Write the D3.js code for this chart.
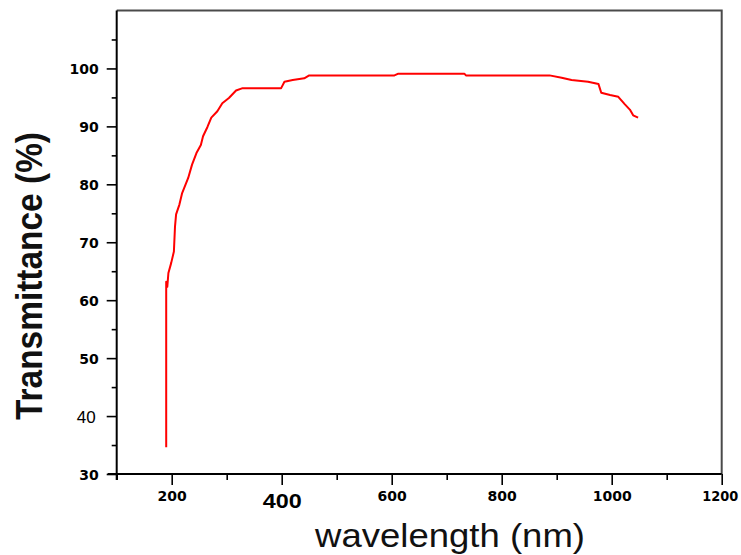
<!DOCTYPE html>
<html>
<head>
<meta charset="utf-8">
<script src="https://cdn.jsdelivr.net/npm/d3@7"></script>
<style>
  html, body { margin: 0; padding: 0; background: #fff; }
  svg { display: block; }
</style>
</head>
<body>
<div id="chart"></div>
<script>
// 读图得到的数据
const wavelength = [190, 190, 192, 194, 199, 204, 206, 208, 214, 219, 230, 237, 245, 253, 257, 265, 272, 283, 292, 304, 317, 329, 399, 405, 420, 441, 450, 605, 612, 732, 735, 887, 909, 927, 957, 976, 981, 997, 1012, 1024, 1033, 1039, 1048]
const transmittance = [34.6, 63.2, 62.3, 64.7, 66.4, 68.4, 72.7, 74.8, 76.5, 78.5, 81.1, 83.4, 85.4, 86.8, 88.3, 89.9, 91.5, 92.6, 94.0, 94.9, 96.2, 96.6, 96.6, 97.7, 98.0, 98.3, 98.8, 98.8, 99.1, 99.1, 98.8, 98.8, 98.4, 98.0, 97.7, 97.3, 95.8, 95.4, 95.1, 93.8, 92.9, 91.9, 91.5]

const xMajorTicks = [200, 400, 600, 800, 1000, 1200]
const xMinorTicks = [100, 300, 500, 700, 900, 1100]
const yMajorTicks = [30, 40, 50, 60, 70, 80, 90, 100]
const yMinorTicks = [35, 45, 55, 65, 75, 85, 95, 105]

const width = 741
const height = 555
const plotLeft = 116.7
const plotRight = 721.7
const plotTop = 10.5
const plotBottom = 474

const x = d3.scaleLinear().domain([100, 1200]).range([plotLeft, plotRight])
const y = d3.scaleLinear().domain([30, 110]).range([plotBottom, plotTop])

const svg = d3.select('#chart').append('svg')
  .attr('width', width)
  .attr('height', height)
  .style('background', '#fff')

// 上边框和右边框
svg.append('path')
  .attr('d', `M${plotLeft},${plotTop}H${plotRight}V${plotBottom}`)
  .attr('fill', 'none')
  .attr('stroke', '#4a4a4a')
  .attr('stroke-width', 2)

const tickFont = '"DejaVu Sans", sans-serif'

// x 轴
const gxMinor = svg.append('g')
  .attr('transform', `translate(0,${plotBottom})`)
  .call(d3.axisBottom(x).tickValues(xMinorTicks).tickSize(6).tickFormat(''))
const gx = svg.append('g')
  .attr('transform', `translate(0,${plotBottom})`)
  .call(d3.axisBottom(x).tickValues(xMajorTicks).tickSize(11).tickSizeOuter(0).tickFormat(d3.format('d')))

gx.select('.domain').remove()
gxMinor.select('.domain').remove()
svg.append('line')
  .attr('x1', plotLeft - 9).attr('x2', plotRight)
  .attr('y1', plotBottom).attr('y2', plotBottom)
  .attr('stroke', '#000').attr('stroke-width', 2)

gx.selectAll('.tick text')
  .attr('y', 501 - plotBottom)
  .attr('dy', 0)
  .attr('fill', '#000')
  .style('font-family', tickFont)
  .style('font-weight', 'bold')
  .style('font-size', '14px')
gx.selectAll('.tick text').filter(d => d === 400)
  .attr('y', 508 - plotBottom)
  .style('font-family', '"Liberation Sans", Arial, sans-serif')
  .style('font-size', '20px')
  .attr('textLength', 39)
  .attr('lengthAdjust', 'spacingAndGlyphs')
gx.selectAll('.tick text').filter(d => d === 1200)
  .attr('dx', -2)
  .attr('textLength', 36)
  .attr('lengthAdjust', 'spacingAndGlyphs')

// y 轴
const gyMinor = svg.append('g')
  .attr('transform', `translate(${plotLeft},0)`)
  .call(d3.axisLeft(y).tickValues(yMinorTicks).tickSize(5).tickFormat(''))
const gy = svg.append('g')
  .attr('transform', `translate(${plotLeft},0)`)
  .call(d3.axisLeft(y).tickValues(yMajorTicks).tickSize(10).tickPadding(8))

gy.select('.domain').remove()
gyMinor.select('.domain').remove()
svg.append('line')
  .attr('x1', plotLeft).attr('x2', plotLeft)
  .attr('y1', plotTop).attr('y2', plotBottom + 6)
  .attr('stroke', '#000').attr('stroke-width', 2)

svg.selectAll('.tick line').attr('stroke', '#000').attr('stroke-width', 1.6)

gy.selectAll('.tick text')
  .attr('dy', '0.36em')
  .attr('fill', '#000')
  .style('font-family', tickFont)
  .style('font-weight', 'bold')
  .style('font-size', '14px')
gy.selectAll('.tick text').filter(d => d === 40)
  .attr('x', -21)
  .style('font-family', '"Liberation Sans", Arial, sans-serif')
  .style('font-weight', 'normal')
  .style('font-size', '17px')

// 曲线
const points = wavelength.map((w, i) => [w, transmittance[i]])
svg.append('path')
  .datum(points)
  .attr('fill', 'none')
  .attr('stroke', '#ff0000')
  .attr('stroke-width', 2)
  .attr('stroke-linejoin', 'round')
  .attr('d', d3.line().x(d => x(d[0])).y(d => y(d[1])))

// 轴标题
svg.append('text')
  .attr('x', 450)
  .attr('y', 547)
  .attr('text-anchor', 'middle')
  .attr('textLength', 270)
  .attr('lengthAdjust', 'spacingAndGlyphs')
  .style('font-family', '"Liberation Sans", Arial, sans-serif')
  .style('font-size', '33px')
  .attr('fill', '#111')
  .text('wavelength (nm)')

svg.append('text')
  .attr('transform', 'translate(42,276) rotate(-90)')
  .attr('text-anchor', 'middle')
  .attr('textLength', 288)
  .attr('lengthAdjust', 'spacingAndGlyphs')
  .style('font-family', '"Liberation Sans", Arial, sans-serif')
  .style('font-weight', 'bold')
  .style('font-size', '37px')
  .attr('fill', '#111')
  .text('Transmittance (%)')
</script>
</body>
</html>
